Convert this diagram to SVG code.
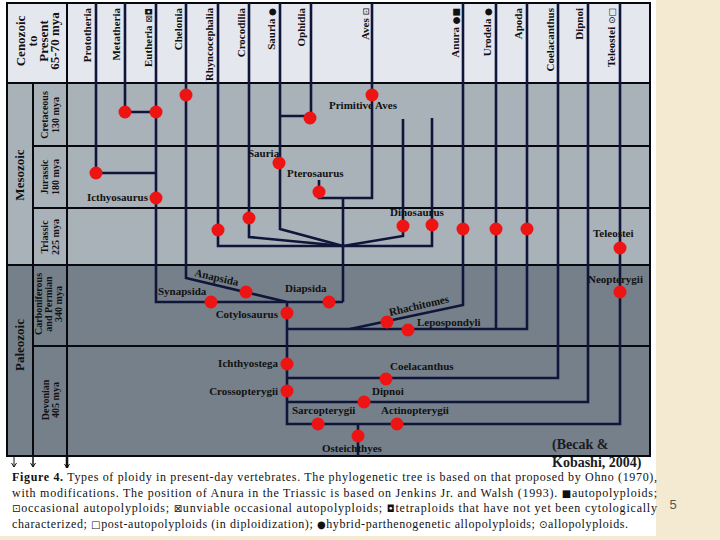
<svg xmlns="http://www.w3.org/2000/svg" width="720" height="540" viewBox="0 0 720 540">
<defs>
<style>
.lbl{font-family:"Liberation Serif","DejaVu Serif",serif;font-weight:bold;font-size:11px;fill:#111}
.rl{text-anchor:end}
.hdr{font-family:"Liberation Serif","DejaVu Serif",serif;font-weight:bold;font-size:11px;fill:#111;text-anchor:end}
.per{font-family:"Liberation Serif","DejaVu Serif",serif;font-weight:bold;font-size:10px;fill:#111;text-anchor:middle}
.era{font-family:"Liberation Serif","DejaVu Serif",serif;font-weight:bold;font-size:13px;fill:#111;text-anchor:middle}
.ceno{font-family:"Liberation Serif","DejaVu Serif",serif;font-weight:bold;font-size:13px;fill:#111;text-anchor:middle}
.sym{font-family:"DejaVu Sans",sans-serif;font-weight:normal}
.grid{stroke:#08080f;stroke-width:2;fill:none}
.conn{stroke:#10163a;stroke-width:2.6;fill:none;stroke-linejoin:miter}
.dot{fill:#ee1414}
.cap{font-family:"Liberation Serif","DejaVu Serif",serif;font-size:12px;fill:#111}
.src{font-family:"Liberation Serif","DejaVu Serif",serif;font-weight:bold;font-size:14px;fill:#1a1a22}
</style>
<marker id="ah" markerWidth="6" markerHeight="6" refX="5" refY="3" orient="auto" markerUnits="userSpaceOnUse" viewBox="0 0 6 6">
<path d="M1,0.5 L5,3 L1,5.5" fill="none" stroke="#111" stroke-width="1"/>
</marker>
</defs>

<!-- backgrounds -->
<rect x="0" y="0" width="720" height="540" fill="#f4ead1"/>
<rect x="0" y="0" width="656" height="536" fill="#ffffff"/>
<rect x="7" y="3" width="643" height="80" fill="#e5e7ee"/>
<rect x="7" y="83" width="643" height="182" fill="#a9b1b9"/>
<rect x="7" y="265" width="643" height="191" fill="#75808a"/>

<!-- grid -->
<g id="grid" class="grid">
<rect x="7" y="3" width="643" height="453"/>
<path d="M7,83 H650 M33,146 H650 M33,208 H650 M7,265 H650 M33,346 H650"/>
<path d="M33,83 V456 M67,3 V456"/>
</g>

<!-- below-frame arrows -->
<g id="arrows" stroke="#111" fill="none">
<path d="M14,456 V467" stroke-width="1" marker-end="url(#ah)"/>
<path d="M33,456 V467" stroke-width="1.5" marker-end="url(#ah)"/>
<path d="M67,456 V468" stroke-width="2.5" marker-end="url(#ah)"/>
</g>

<!-- header labels -->
<g id="header">
<g id="h-ceno">
<text class="ceno" transform="translate(25,41) rotate(-90)">Cenozoic</text>
<text class="ceno" transform="translate(37,41) rotate(-90)">to</text>
<text class="ceno" transform="translate(48,41) rotate(-90)">Present</text>
<text class="ceno" transform="translate(59,41) rotate(-90)">65-70 mya</text>
</g>
<text class="hdr" transform="translate(91,8) rotate(-90)">Prototheria</text>
<text class="hdr" transform="translate(120,8) rotate(-90)">Metatheria</text>
<text class="hdr" transform="translate(152,8) rotate(-90)">Eutheria <tspan class="sym" font-size="9">⊠◘</tspan></text>
<text class="hdr" transform="translate(182,8) rotate(-90)">Chelonia</text>
<text class="hdr" transform="translate(213,8) rotate(-90)" textLength="73" lengthAdjust="spacingAndGlyphs">Rhyncocephalia</text>
<text class="hdr" transform="translate(245,8) rotate(-90)">Crocodilia</text>
<text class="hdr" transform="translate(275,8) rotate(-90)">Sauria <tspan class="sym" font-size="9">●</tspan></text>
<text class="hdr" transform="translate(305,8) rotate(-90)">Ophidia</text>
<text class="hdr" transform="translate(369,8) rotate(-90)">Aves <tspan class="sym" font-size="9">⊡</tspan></text>
<text class="hdr" transform="translate(459,8) rotate(-90)">Anura <tspan class="sym" font-size="9">●■</tspan></text>
<text class="hdr" transform="translate(491,8) rotate(-90)">Urodela <tspan class="sym" font-size="9">●</tspan></text>
<text class="hdr" transform="translate(522,8) rotate(-90)">Apoda</text>
<text class="hdr" transform="translate(554,8) rotate(-90)">Coelacanthus</text>
<text class="hdr" transform="translate(583,8) rotate(-90)">Dipnoi</text>
<text class="hdr" transform="translate(615,8) rotate(-90)">Teleostei <tspan class="sym" font-size="9">⊙□</tspan></text>
</g>

<!-- era and period labels -->
<g id="periods">
<text class="era" transform="translate(24,175) rotate(-90)">Mesozoic</text>
<text class="era" transform="translate(24,345) rotate(-90)">Paleozoic</text>
<text class="per" transform="translate(48,115) rotate(-90)">Cretaceous</text>
<text class="per" transform="translate(59,115) rotate(-90)">130 mya</text>
<text class="per" transform="translate(48,177) rotate(-90)">Jurassic</text>
<text class="per" transform="translate(59,177) rotate(-90)">180 mya</text>
<text class="per" transform="translate(48,237) rotate(-90)">Triassic</text>
<text class="per" transform="translate(59,237) rotate(-90)">225 mya</text>
<text class="per" transform="translate(42,304) rotate(-90)">Carboniferous</text>
<text class="per" transform="translate(52,304) rotate(-90)">and Permian</text>
<text class="per" transform="translate(62,304) rotate(-90)">340 mya</text>
<text class="per" transform="translate(49,400) rotate(-90)">Devonian</text>
<text class="per" transform="translate(59,400) rotate(-90)">405 mya</text>
</g>

<!-- connectors -->
<g id="connectors" class="conn">
<path d="M96,3 V173 H156"/>
<path d="M125,3 V112 H156"/>
<path d="M156,3 V302 H343"/>
<path d="M186,3 V278 L287,302"/>
<path d="M218,3 V246 H432 V118"/>
<path d="M249,3 V237 L343,246"/>
<path d="M280,3 V229 L343,246"/>
<path d="M311,3 V116 H280"/>
<path d="M372,3 V198 H319 V180"/>
<path d="M343,198 V302"/>
<path d="M403,119 V236 L343,246"/>
<path d="M463,3 V305 L350,329"/>
<path d="M496,3 V329"/>
<path d="M527,3 V329 H287"/>
<path d="M558,3 V378 H287"/>
<path d="M588,3 V402 H287"/>
<path d="M620,3 V424 H287 V302"/>
<path d="M358,424 V456"/>
</g>

<!-- nodes -->
<g id="nodes">
<g id="n-metatheria"><circle class="dot" cx="125" cy="112" r="6.5"/></g>
<g id="n-eutheria"><circle class="dot" cx="156" cy="112" r="6.5"/></g>
<g id="n-chelonia"><circle class="dot" cx="186" cy="95" r="6.5"/></g>
<g id="n-ophidia"><circle class="dot" cx="310" cy="118" r="6.5"/></g>
<g id="n-primitive-aves"><circle class="dot" cx="372" cy="95" r="6.5"/><text class="lbl" x="329" y="109">Primitive  Aves</text></g>
<g id="n-prototheria"><circle class="dot" cx="96" cy="173" r="6.5"/></g>
<g id="n-icthyosaurus"><circle class="dot" cx="156" cy="198" r="6.5"/><text class="lbl rl" x="148" y="201">Icthyosaurus</text></g>
<g id="n-sauria"><circle class="dot" cx="279" cy="163" r="6.5"/><text class="lbl" x="248" y="157">Sauria</text></g>
<g id="n-pterosaurus"><circle class="dot" cx="319" cy="192" r="6.5"/><text class="lbl" x="287" y="177">Pterosaurus</text></g>
<g id="n-rhyncocephalia"><circle class="dot" cx="218" cy="230" r="6.5"/></g>
<g id="n-crocodilia"><circle class="dot" cx="249" cy="218" r="6.5"/></g>
<g id="n-dinosaurus"><circle class="dot" cx="403" cy="226" r="6.5"/><circle class="dot" cx="432" cy="225" r="6.5"/><text class="lbl" x="390" y="216">Dinosaurus</text></g>
<g id="n-anura"><circle class="dot" cx="463" cy="229" r="6.5"/></g>
<g id="n-urodela"><circle class="dot" cx="496" cy="229" r="6.5"/></g>
<g id="n-apoda"><circle class="dot" cx="527" cy="229" r="6.5"/></g>
<g id="n-teleostei"><circle class="dot" cx="620" cy="248" r="6.5"/><text class="lbl" x="593" y="237">Teleostei</text></g>
<g id="n-neopterygii"><circle class="dot" cx="620" cy="292" r="6.5"/><text class="lbl" x="588" y="283">Neopterygii</text></g>
<g id="n-anapsida"><circle class="dot" cx="246" cy="292" r="6.5"/><text class="lbl" transform="translate(194,276) rotate(13)">Anapsida</text></g>
<g id="n-synapsida"><circle class="dot" cx="211" cy="302" r="6.5"/><text class="lbl" x="158" y="295">Synapsida</text></g>
<g id="n-diapsida"><circle class="dot" cx="329" cy="302" r="6.5"/><text class="lbl" x="285" y="292">Diapsida</text></g>
<g id="n-cotylosaurus"><circle class="dot" cx="287" cy="313" r="6.5"/><text class="lbl rl" x="278" y="318">Cotylosaurus</text></g>
<g id="n-rhachitomes"><circle class="dot" cx="387" cy="322" r="6.5"/><text class="lbl" transform="translate(390,316) rotate(-13)">Rhachitomes</text></g>
<g id="n-lepospondyli"><circle class="dot" cx="408" cy="330" r="6.5"/><text class="lbl" x="417" y="326">Lepospondyli</text></g>
<g id="n-ichthyostega"><circle class="dot" cx="287" cy="364" r="6.5"/><text class="lbl rl" x="278" y="367">Ichthyostega</text></g>
<g id="n-crossopterygii"><circle class="dot" cx="287" cy="391" r="6.5"/><text class="lbl rl" x="278" y="395">Crossopterygii</text></g>
<g id="n-coelacanthus"><circle class="dot" cx="386" cy="379" r="6.5"/><text class="lbl" x="390" y="370">Coelacanthus</text></g>
<g id="n-dipnoi"><circle class="dot" cx="364" cy="402" r="6.5"/><text class="lbl" x="372" y="395">Dipnoi</text></g>
<g id="n-sarcopterygii"><circle class="dot" cx="318" cy="424" r="6.5"/><text class="lbl" x="292" y="414">Sarcopterygii</text></g>
<g id="n-actinopterygii"><circle class="dot" cx="397" cy="424" r="6.5"/><text class="lbl" x="381" y="414">Actinopterygii</text></g>
<g id="n-osteichthyes"><circle class="dot" cx="358" cy="436" r="6.5"/><text class="lbl" x="322" y="452">Osteichthyes</text></g>
</g>

<!-- source and caption -->
<text class="src" x="552" y="449">(Becak &amp;</text>
<text class="src" x="552" y="467" font-size="13.5">Kobashi, 2004)</text>

<g id="caption" class="cap">
<text x="12" y="481" textLength="645" lengthAdjust="spacing"><tspan font-weight="bold">Figure 4.</tspan> Types of ploidy in present-day vertebrates. The phylogenetic tree is based on that proposed by Ohno (1970),</text>
<text x="12" y="497" textLength="645" lengthAdjust="spacing">with modifications. The position of Anura in the Triassic is based on Jenkins Jr. and Walsh (1993). <tspan class="sym" font-size="10">■</tspan>autopolyploids;</text>
<text x="12" y="512" textLength="645" lengthAdjust="spacing"><tspan class="sym" font-size="10">⊡</tspan>occasional autopolyploids; <tspan class="sym" font-size="10">⊠</tspan>unviable occasional autopolyploids; <tspan class="sym" font-size="10">◘</tspan>tetraploids that have not yet been cytologically</text>
<text x="12" y="528" textLength="616" lengthAdjust="spacing">characterized; <tspan class="sym" font-size="10">□</tspan>post-autopolyploids (in diploidization); <tspan class="sym" font-size="10">●</tspan>hybrid-parthenogenetic allopolyploids; <tspan class="sym" font-size="10">⊙</tspan>allopolyploids.</text>
</g>

<text x="673" y="509" font-family="Liberation Sans, Arial, sans-serif" font-size="13" fill="#555" text-anchor="middle">5</text>
</svg>
